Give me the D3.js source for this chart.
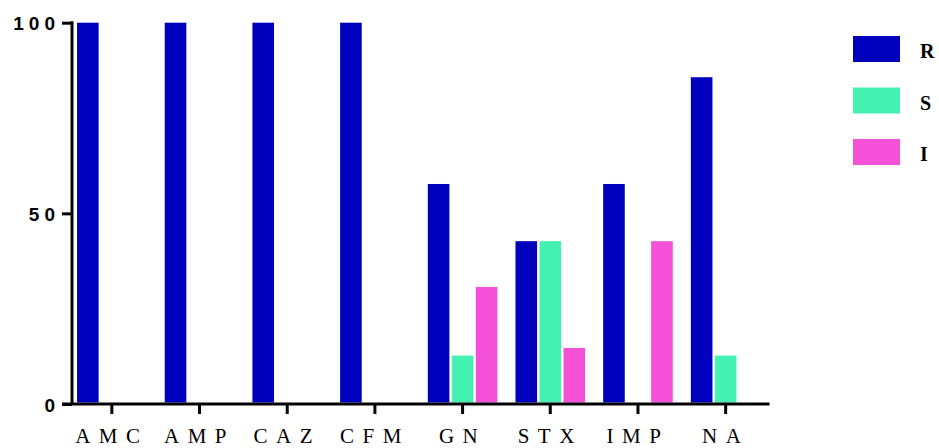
<!DOCTYPE html>
<html>
<head>
<meta charset="utf-8">
<script src="https://cdn.jsdelivr.net/npm/d3@7"></script>
<style>
  html, body { margin: 0; padding: 0; background: #fff; }
  svg { display: block; }
</style>
</head>
<body>
<svg id="chart" width="939" height="448"></svg>
<script>
// Antibiotic resistance profile (%) per drug
const categories = ["AMC", "AMP", "CAZ", "CFM", "GN", "STX", "IMP", "NA"];
const seriesNames = ["R", "S", "I"];
const valuesR = [100, 100, 100, 100, 57.7, 42.7, 57.7, 85.7];
const valuesS = [0, 0, 0, 0, 12.7, 42.7, 0, 12.7];
const valuesI = [0, 0, 0, 0, 30.7, 14.7, 42.7, 0];
const yTicks = [0, 50, 100];
const colors = ["#0000BF", "#44F1B3", "#F551D7"];

const seriesValues = [valuesR, valuesS, valuesI];
const rows = categories.map((c, i) => ({
  cat: c,
  vals: seriesNames.map((s, j) => ({ key: s, value: seriesValues[j][i] }))
}));

const svg = d3.select("#chart");
const axisX = 72, baseY = 404;

const x = d3.scaleBand().domain(categories).range([68, 769.5]).padding(0);
const xs = d3.scaleBand().domain(seriesNames).range([-36, 36]).paddingInner(0.1).paddingOuter(0.05);
const y = d3.scaleLinear().domain([0, 100]).range([baseY, 22.7]);

// bars
const groups = svg.append("g").selectAll("g")
  .data(rows).join("g")
  .attr("transform", d => `translate(${x(d.cat) + x.bandwidth() / 2},0)`);

groups.selectAll("rect")
  .data(d => d.vals.filter(v => v.value > 0))
  .join("rect")
  .attr("x", d => xs(d.key))
  .attr("width", xs.bandwidth())
  .attr("y", d => y(d.value))
  .attr("height", d => y(0) - y(d.value) - 1.5)
  .attr("fill", d => colors[seriesNames.indexOf(d.key)]);

// y axis
const yAxis = svg.append("g")
  .attr("transform", `translate(${axisX},0)`)
  .call(d3.axisLeft(y).tickValues(yTicks).tickSize(10).tickPadding(2).tickSizeOuter(0));
yAxis.select(".domain").remove();
yAxis.append("line")
  .attr("x1", 0).attr("x2", 0)
  .attr("y1", y(100) - 1.5).attr("y2", baseY)
  .attr("stroke", "#000").attr("stroke-width", 3);
yAxis.selectAll(".tick line").attr("stroke", "#000").attr("stroke-width", 3);
yAxis.selectAll(".tick text")
  .attr("dy", "0.38em")
  .style("font-family", "'Liberation Sans', Arial, sans-serif")
  .style("font-weight", "bold")
  .style("font-size", "19px")
  .style("letter-spacing", "5px")
  .attr("fill", "#000");

// x axis
const xAxis = svg.append("g")
  .attr("transform", `translate(0,${baseY})`)
  .call(d3.axisBottom(x).tickSize(10).tickSizeOuter(0));
xAxis.select(".domain").remove();
xAxis.append("line")
  .attr("x1", 62).attr("x2", x.range()[1])
  .attr("y1", 0).attr("y2", 0)
  .attr("stroke", "#000").attr("stroke-width", 3);
xAxis.selectAll(".tick line").attr("stroke", "#000").attr("stroke-width", 3);
xAxis.selectAll(".tick text")
  .attr("y", 39).attr("dy", null)
  .style("font-family", "'Liberation Serif', 'Times New Roman', serif")
  .style("font-size", "21px")
  .style("letter-spacing", "8.5px")
  .attr("fill", "#000");

// legend
const legend = svg.append("g").selectAll("g")
  .data(seriesNames).join("g")
  .attr("transform", (d, i) => `translate(853,${36 + i * 51.5})`);
legend.append("rect")
  .attr("width", 47).attr("height", 26)
  .attr("fill", (d, i) => colors[i]);
legend.append("text")
  .attr("x", 67).attr("y", 22)
  .style("font-family", "'Liberation Serif', 'Times New Roman', serif")
  .style("font-weight", "bold")
  .style("font-size", "20px")
  .attr("fill", "#000")
  .text(d => d);
</script>
</body>
</html>
